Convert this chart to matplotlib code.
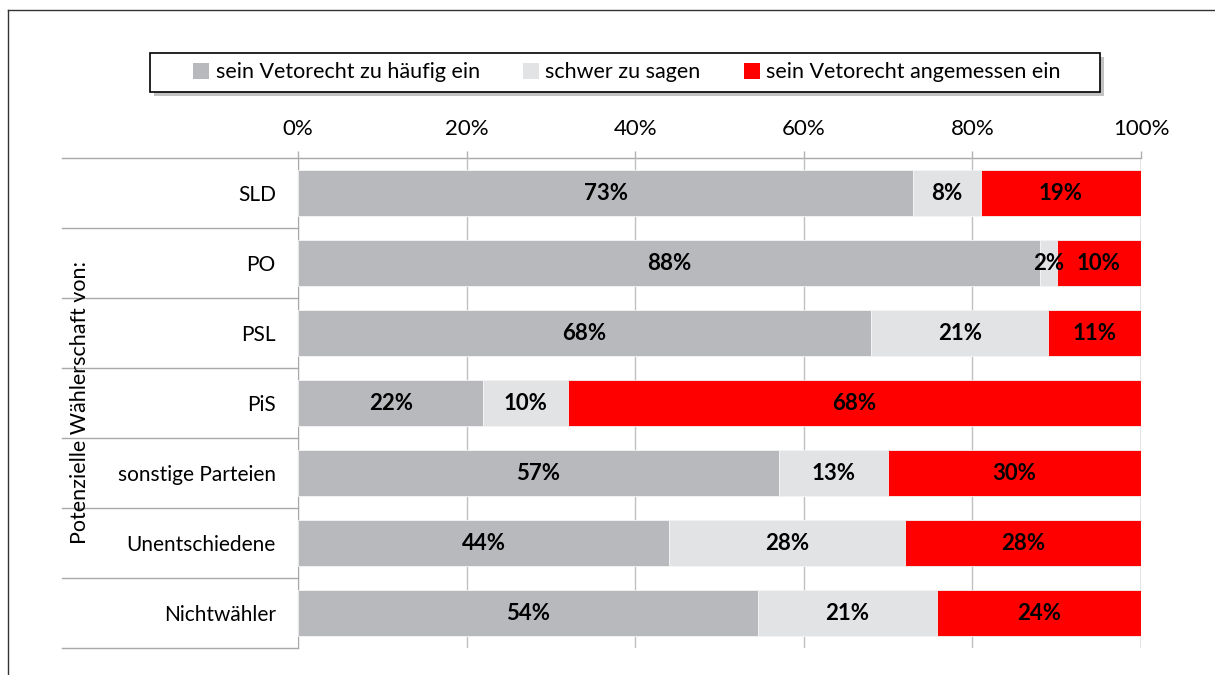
import matplotlib.pyplot as plt
import numpy as np
from matplotlib.patches import Patch, Rectangle
from matplotlib.lines import Line2D

plt.rcParams['font.family'] = ['Lato', 'DejaVu Sans']

# Daten
kategorien = ['SLD', 'PO', 'PSL', 'PiS', 'sonstige Parteien', 'Unentschiedene', 'Nichtwähler']
zu_haeufig = [73, 88, 68, 22, 57, 44, 54]
schwer = [8, 2, 21, 10, 13, 28, 21]
angemessen = [19, 10, 11, 68, 30, 28, 24]
serien = ['sein Vetorecht zu häufig ein', 'schwer zu sagen', 'sein Vetorecht angemessen ein']
farben = ['#b8b9bd', '#e2e3e5', '#ff0000']
ticks = [0, 20, 40, 60, 80, 100]

werte = np.array([zu_haeufig, schwer, angemessen], dtype=float)
anteile = werte / werte.sum(axis=0) * 100   # auf 100% normiert

W, H = 1215, 675
fig = plt.figure(figsize=(12.15, 6.75), dpi=100)
ax = fig.add_axes([298/W, 1 - 648/H, 843/W, 490/H])

y = np.arange(len(kategorien))
links = np.zeros(len(kategorien))
for i in range(3):
    ax.barh(y, anteile[i], left=links, height=0.67, color=farben[i],
            edgecolor='#f4f4f4', linewidth=0.6, zorder=3)
    for j in range(len(kategorien)):
        ax.text(links[j] + anteile[i][j] / 2, y[j], f'{int(werte[i][j])}%',
                ha='center', va='center', fontsize=16, fontweight='bold',
                color='black', zorder=4)
    links += anteile[i]

ax.set_xlim(0, 100)
ax.set_ylim(len(kategorien) - 0.5, -0.5)
ax.set_xticks(ticks)
ax.set_xticklabels([f'{t}%' for t in ticks])
ax.xaxis.tick_top()
ax.tick_params(axis='x', length=5, width=1, color='#b0b0b0', pad=9, labelsize=16)
ax.set_yticks(y)
ax.set_yticklabels(kategorien)
ax.tick_params(axis='y', length=0, pad=16, labelsize=15)
ax.grid(axis='x', color='#c0c0c0', linewidth=1, zorder=0)
ax.axvline(100, color='#b0b0b0', linewidth=1, zorder=0)
for s in ['top', 'right', 'bottom']:
    ax.spines[s].set_visible(False)
ax.spines['left'].set_color('#a8a8a8')

# Trennlinien links
for g in np.arange(-0.5, len(kategorien) + 0.5, 1):
    ende = 100 if g == -0.5 else 0
    ax.plot([-28, ende], [g, g], color='#a8a8a8', linewidth=1, clip_on=False, zorder=1)

fig.text(80/W, 1 - 403/H, 'Potenzielle Wählerschaft von:', rotation=90,
         ha='center', va='center', fontsize=15.5)

# Legende mit Rahmen und Schatten
fig.add_artist(Rectangle((154/W, 1 - 96/H), 950/W, 39/H, transform=fig.transFigure,
                         facecolor='#9a9a9a', edgecolor='none', alpha=0.6))
fig.add_artist(Rectangle((150/W, 1 - 92/H), 950/W, 39/H, transform=fig.transFigure,
                         facecolor='white', edgecolor='black', linewidth=1.2))
handles = [Patch(facecolor=c, edgecolor='none') for c in farben]
leg = fig.legend(handles, serien, ncol=3, loc='center',
                 bbox_to_anchor=(627/W, 1 - 72.5/H), fontsize=15.5,
                 frameon=False, handlelength=0.75, handleheight=0.75,
                 handletextpad=0.3, columnspacing=2.0)

# Rahmen
fig.add_artist(Line2D([8/W, 1], [1 - 10/H, 1 - 10/H], color='#333333', linewidth=1))
fig.add_artist(Line2D([8/W, 8/W], [0, 1 - 10/H], color='#333333', linewidth=1))

fig.savefig('out.png', dpi=100)
